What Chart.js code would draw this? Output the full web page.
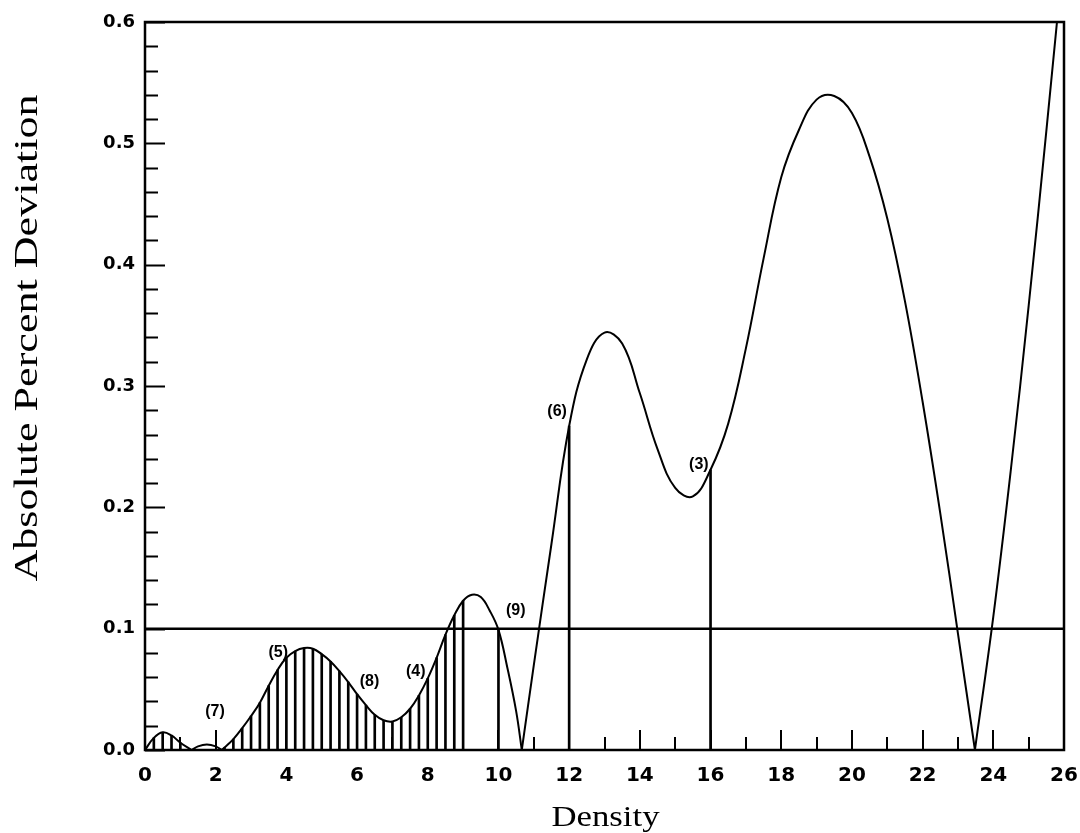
<!DOCTYPE html>
<html>
<head>
<meta charset="utf-8">
<title>Absolute Percent Deviation vs Density</title>
<script src="https://cdn.jsdelivr.net/npm/chart.js@4.4.1/dist/chart.umd.min.js"></script>
<style>
  html, body { margin: 0; padding: 0; background: #fff; }
  #wrap { width: 1080px; height: 833px; position: relative; }
</style>
</head>
<body>
<div id="wrap"><canvas id="chart"></canvas></div>
<script>
// ===========================================
// DATA
// ===========================================

// deviation curve, zeros (the sharp V's) split it into lobes
const densityX = [
  0, 0.25, 0.5, 0.75, 1.0, 1.32,
  1.5, 1.75, 2.0, 2.17,
  2.25, 2.5, 2.75, 3.0, 3.25, 3.5, 3.75, 4.0, 4.25, 4.5, 4.75, 5.0,
  5.25, 5.5, 5.75, 6.0, 6.25, 6.5, 6.75, 7.0, 7.25, 7.5, 7.75, 8.0,
  8.25, 8.5, 8.75, 9.0, 9.25, 9.5, 9.75, 10.0, 10.25, 10.5, 10.66,
  11.0, 11.5, 12.0, 12.5, 13.0, 13.5, 14.0, 14.5, 15.0, 15.5,
  16.0, 16.5, 17.0, 17.5, 18.0, 18.5, 19.0, 19.5, 20.0, 20.5,
  21.0, 21.5, 22.0, 22.5, 23.0, 23.48,
  24.0, 24.5, 25.0, 25.5, 26.0
];
const deviationY = [
  0, 0.010, 0.0146, 0.012, 0.006, 0,
  0.003, 0.0045, 0.003, 0,
  0.002, 0.009, 0.018, 0.028, 0.039, 0.053, 0.066, 0.076, 0.0815, 0.084, 0.0835, 0.079,
  0.073, 0.065, 0.056, 0.046, 0.037, 0.029, 0.0245, 0.0235, 0.027, 0.034, 0.045, 0.059,
  0.076, 0.095, 0.111, 0.123, 0.128, 0.126, 0.115, 0.099, 0.068, 0.032, 0,
  0.07, 0.17, 0.267, 0.322, 0.344, 0.335, 0.294, 0.248, 0.216, 0.209,
  0.231, 0.269, 0.331, 0.405, 0.472, 0.511, 0.536, 0.539, 0.525, 0.489,
  0.438, 0.37, 0.287, 0.195, 0.096, 0,
  0.11, 0.232, 0.366, 0.51, 0.66
];

// vertical hatch lines (densities where a drop line is drawn)
const hatchX = [
  0.25, 0.5, 0.75, 1.0,
  2.25, 2.5, 2.75, 3.0, 3.25, 3.5, 3.75, 4.0, 4.25, 4.5, 4.75, 5.0,
  5.25, 5.5, 5.75, 6.0, 6.25, 6.5, 6.75, 7.0, 7.25, 7.5, 7.75, 8.0,
  8.25, 8.5, 8.75, 9.0,
  10.0, 12.0, 16.0
];

// reference level
const limitLevel = 0.1;

// numbered marks
const markText = ['(7)', '(5)', '(8)', '(4)', '(9)', '(6)', '(3)'];
const markX = [1.98, 3.77, 6.35, 7.66, 10.49, 11.66, 15.67];
const markY = [0.032, 0.080, 0.056, 0.065, 0.115, 0.279, 0.235];

// axes
const xMin = 0, xMax = 26, xStep = 1;
const yMin = 0, yMax = 0.6, yStep = 0.02;
const xTitle = 'Density';
const yTitle = 'Absolute Percent Deviation';

// ===========================================
// BUILD DATASETS
// ===========================================

// split curve into lobes at the zero points so the V's stay sharp
function buildLobes() {
  const lobes = [];
  let cur = [];
  densityX.forEach((x, i) => {
    const pt = { x: x, y: deviationY[i] };
    cur.push(pt);
    if (deviationY[i] === 0 && cur.length > 1) {
      lobes.push(cur);
      cur = [pt];
    }
  });
  if (cur.length > 1) lobes.push(cur);
  return lobes;
}

const hatchData = hatchX.map(x => ({ x: x, y: deviationY[densityX.indexOf(x)] }));

const datasets = buildLobes().map(pts => ({
  type: 'line',
  data: pts,
  borderColor: '#000',
  borderWidth: 2,
  pointRadius: 0,
  tension: 0.4,
  order: 1
}));

datasets.push({
  type: 'line',
  data: [{ x: xMin, y: limitLevel }, { x: xMax, y: limitLevel }],
  borderColor: '#000',
  borderWidth: 2.5,
  pointRadius: 0,
  order: 2
});

datasets.push({
  type: 'bar',
  data: hatchData,
  backgroundColor: '#000',
  borderWidth: 0,
  barThickness: 2,
  order: 3
});

// ===========================================
// FRAME, INWARD TICKS, MARKS, AXIS TITLES
// ===========================================

function isMajor(v, every) {
  const r = v / every;
  return Math.abs(r - Math.round(r)) < 1e-6;
}

const inkPlugin = {
  id: 'ink',
  afterDraw(chart) {
    const { ctx, chartArea: a, scales: { x, y } } = chart;
    ctx.save();
    ctx.strokeStyle = '#000';
    ctx.fillStyle = '#000';

    // frame
    ctx.lineWidth = 2.5;
    ctx.strokeRect(a.left, a.top, a.right - a.left, a.bottom - a.top);

    // ticks pointing into the plot
    ctx.lineWidth = 2;
    ctx.beginPath();
    y.ticks.forEach(t => {
      const py = Math.round(y.getPixelForValue(t.value)) + 0.5;
      const len = isMajor(t.value, 0.1) ? 20 : 13;
      ctx.moveTo(a.left, py);
      ctx.lineTo(a.left + len, py);
    });
    x.ticks.forEach(t => {
      const px = Math.round(x.getPixelForValue(t.value));
      const len = isMajor(t.value, 2) ? 20 : 13;
      ctx.moveTo(px, a.bottom);
      ctx.lineTo(px, a.bottom - len);
    });
    ctx.stroke();

    // numbered marks
    ctx.font = 'bold 16px "Liberation Sans", Arial, sans-serif';
    ctx.textAlign = 'center';
    ctx.textBaseline = 'middle';
    markText.forEach((txt, i) => {
      ctx.fillText(txt, x.getPixelForValue(markX[i]), y.getPixelForValue(markY[i]));
    });

    // axis titles (serif, a bit wide like the original)
    ctx.textBaseline = 'alphabetic';
    ctx.font = '29px "Liberation Serif", "Times New Roman", serif';
    let w = ctx.measureText(xTitle).width;
    ctx.save();
    ctx.translate((a.left + a.right) / 2 + 1, 826);
    ctx.scale(108 / w, 1);
    ctx.fillText(xTitle, 0, 0);
    ctx.restore();

    ctx.font = '34px "Liberation Serif", "Times New Roman", serif';
    w = ctx.measureText(yTitle).width;
    ctx.save();
    ctx.translate(37, 338);
    ctx.rotate(-Math.PI / 2);
    ctx.scale(487 / w, 1);
    ctx.fillText(yTitle, 0, 0);
    ctx.restore();

    ctx.restore();
  }
};

// ===========================================
// CHART
// ===========================================

new Chart(document.getElementById('chart').getContext('2d'), {
  type: 'line',
  data: { datasets: datasets },
  options: {
    responsive: true,
    maintainAspectRatio: false,
    animation: false,
    devicePixelRatio: 1,
    layout: { padding: { top: 22, right: 16, bottom: 0, left: 0 } },
    plugins: {
      legend: { display: false },
      tooltip: { enabled: false }
    },
    scales: {
      x: {
        type: 'linear',
        min: xMin,
        max: xMax,
        offset: false,
        grid: { display: false, drawTicks: false },
        border: { display: false },
        ticks: {
          stepSize: xStep,
          autoSkip: false,
          maxRotation: 0,
          padding: 14,
          color: '#000',
          font: { family: '"DejaVu Sans", sans-serif', weight: 'bold', size: 20 },
          callback: v => isMajor(v, 2) ? String(Math.round(v)) : ''
        },
        afterFit: s => {
          s.height = 83;
          // the "26" label may hang past the frame, as in the original
          s.paddingLeft = 0;
          s.paddingRight = 0;
        }
      },
      y: {
        type: 'linear',
        min: yMin,
        max: yMax,
        grid: { display: false, drawTicks: false },
        border: { display: false },
        ticks: {
          stepSize: yStep,
          autoSkip: false,
          padding: 10,
          color: '#000',
          font: { family: '"DejaVu Sans", sans-serif', weight: 'bold', size: 18 },
          callback: v => isMajor(v, 0.1) ? v.toFixed(1) : ''
        },
        afterFit: s => { s.width = 145; }
      }
    }
  },
  plugins: [inkPlugin]
});
</script>
</body>
</html>
